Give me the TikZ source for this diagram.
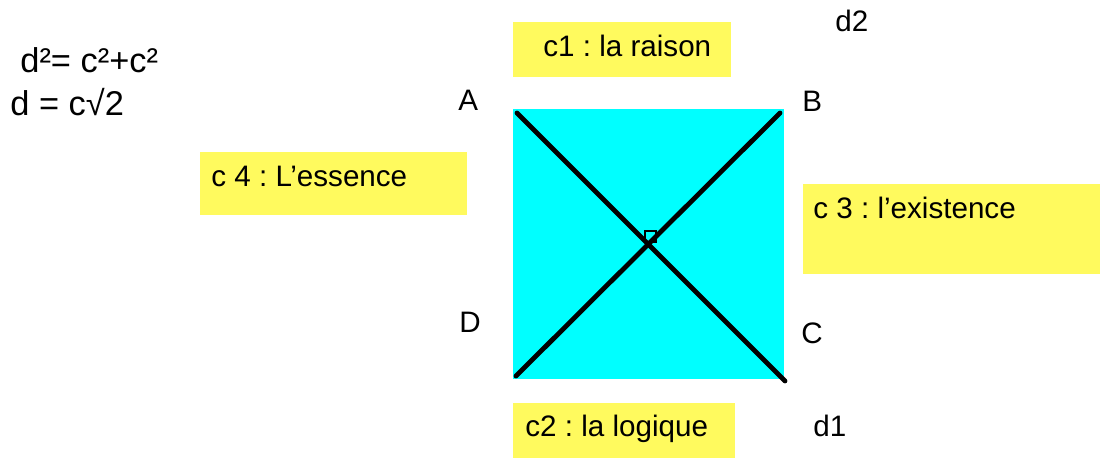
\documentclass[tikz,border=0pt]{standalone}
\usepackage{fontspec}
\setmainfont{Liberation Sans}
\frenchspacing
\definecolor{postit}{RGB}{255,250,94}
\definecolor{carre}{RGB}{0,255,255}

\begin{document}
\begin{tikzpicture}[x=0.5pt, y=-0.5pt,
  txt/.style={anchor=base west, inner sep=0pt, font=\fontsize{14.8}{18}\selectfont},
  formule/.style={txt, font=\fontsize{17.2}{20}\selectfont},
  boite/.style={fill=postit},
  diag/.style={line width=2.4pt, line cap=round}]
\useasboundingbox (0, 0) rectangle (1100, 459);

\fill [boite] (513, 22) rectangle (731, 77);
\fill [boite] (200, 152) rectangle (467, 215);
\fill [boite] (803, 184) rectangle (1100, 274);
\fill [boite] (513, 403) rectangle (735, 458);

\fill [carre] (513, 109) rectangle (784, 379);

\coordinate (p1) at (517, 113);
\coordinate (q1) at (785, 381);
\coordinate (p2) at (516, 376);
\coordinate (q2) at (780, 113);
\draw [diag] (p1) -- (q1);
\draw [diag] (p2) -- (q2);
\draw [line width=1pt] (645, 231) rectangle (656, 242);

\node (c1) [txt] at (543, 57) {c1 : la raison};
\node (c4) [txt] at (211, 187) {c 4 : L’essence};
\node (c3) [txt] at (813, 219) {c 3 : l’existence};
\node (c2) [txt] at (525, 437) {c2 : la logique};

\node (A) [txt] at (458, 111) {A};
\node (B) [txt] at (802, 112) {B};
\node (C) [txt] at (801, 344) {C};
\node (D) [txt] at (459, 333) {D};
\node (d1) [txt] at (813, 437) {d1};
\node (d2) [txt] at (835, 32) {d2};

\node (f1) [formule] at (20, 73) {d²= c²+c²};
\node (f2) [formule] at (10, 116) {d = c√2};
\end{tikzpicture}
\end{document}
